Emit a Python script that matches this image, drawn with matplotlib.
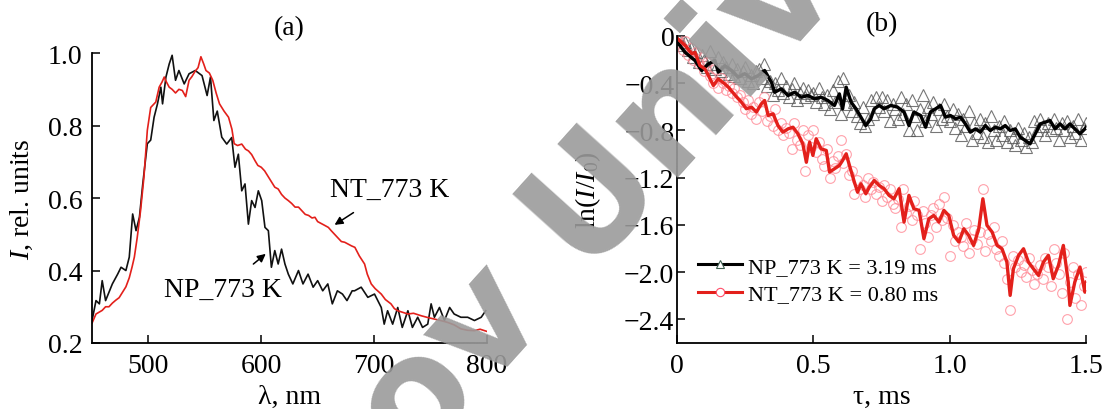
import numpy as np
import matplotlib.pyplot as plt
from matplotlib.lines import Line2D

plt.rcParams['font.family'] = ['Liberation Serif', 'DejaVu Serif']
plt.rcParams['mathtext.fontset'] = 'custom'
plt.rcParams['mathtext.rm'] = 'Liberation Serif'
plt.rcParams['mathtext.it'] = 'Liberation Serif:italic'

# (a) luminescence spectra
lam_nt = [450, 453.5, 459, 462, 465, 468, 471, 474, 477, 480, 483, 485.5, 487.5, 490, 493, 496, 499,
          502, 506.5, 509.5, 512, 514, 516, 518.4, 521, 524, 527, 530, 533, 536, 538.5, 541, 544,
          546.5, 549, 551, 554, 557, 560, 563, 567, 571, 574, 576, 579, 582.7, 586, 588.7, 591.5,
          594.5, 597, 600, 603, 606, 609, 612, 615, 618, 621, 624, 627, 630, 633, 636, 639, 642,
          645, 647.6, 650, 653, 656, 659.5, 662, 665, 668, 671, 674, 677, 680, 683, 687, 691.6,
          694, 697.5, 701, 706.4, 710, 715, 718, 721, 725, 730, 735, 742, 748, 753.5, 759, 765,
          771, 777, 783, 789, 794, 798, 800]
int_nt = [0.255, 0.28, 0.29, 0.30, 0.30, 0.31, 0.318, 0.325, 0.34, 0.355, 0.38, 0.41, 0.437, 0.49,
          0.565, 0.658, 0.787, 0.85, 0.865, 0.906, 0.92, 0.934, 0.92, 0.906, 0.90, 0.89, 0.90, 0.897,
          0.88, 0.925, 0.935, 0.948, 0.96, 0.99, 0.97, 0.952, 0.945, 0.925, 0.89, 0.86, 0.84, 0.823,
          0.79, 0.75, 0.745, 0.749, 0.735, 0.73, 0.72, 0.703, 0.69, 0.685, 0.675, 0.66, 0.645, 0.63,
          0.625, 0.61, 0.60, 0.593, 0.585, 0.575, 0.575, 0.565, 0.555, 0.552, 0.545, 0.547, 0.535,
          0.53, 0.525, 0.519, 0.51, 0.50, 0.49, 0.48, 0.478, 0.473, 0.468, 0.464, 0.44, 0.418, 0.39,
          0.363, 0.35, 0.335, 0.32, 0.308, 0.295, 0.289, 0.285, 0.28, 0.282, 0.275, 0.27, 0.266,
          0.262, 0.257, 0.25, 0.239, 0.235, 0.234, 0.238, 0.234, 0.232]

lam_np = [450, 453.5, 456.5, 459, 462, 465, 468, 472.7, 475.7, 480, 483, 486, 489, 492, 495, 499,
          502, 505, 508, 511, 512.5, 515.5, 518.4, 521, 524, 527, 531.7, 536, 541.5, 547.5, 552,
          555, 558, 561, 565, 569.4, 573.8, 576.7, 579.7, 582.7, 585.6, 588.6, 591.5, 594.5, 597.4,
          600.4, 603.3, 606.3, 609, 612, 615, 618, 621, 624, 628, 633, 637, 641.5, 646, 650, 654.5,
          659, 663, 667.5, 672, 676, 680.6, 682.7, 688.6, 694.5, 700.4, 706.4, 709, 712, 716.5,
          721, 725, 730, 734, 738.7, 743, 747.6, 750.6, 753.5, 758, 762.4, 767, 771, 777, 783, 789,
          795, 799]
int_np = [0.262, 0.317, 0.308, 0.372, 0.317, 0.34, 0.363, 0.39, 0.409, 0.40, 0.437, 0.556, 0.51,
          0.547, 0.64, 0.75, 0.76, 0.823, 0.86, 0.906, 0.86, 0.934, 0.97, 0.994, 0.925, 0.952, 0.915,
          0.943, 0.952, 0.938, 0.883, 0.934, 0.814, 0.84, 0.768, 0.749, 0.767, 0.685, 0.721, 0.62,
          0.639, 0.528, 0.593, 0.574, 0.62, 0.593, 0.519, 0.51, 0.409, 0.455, 0.418, 0.459, 0.418,
          0.39, 0.363, 0.40, 0.363, 0.39, 0.354, 0.372, 0.344, 0.363, 0.308, 0.344, 0.335, 0.317,
          0.344, 0.344, 0.354, 0.326, 0.335, 0.298, 0.252, 0.289, 0.252, 0.298, 0.243, 0.289, 0.243,
          0.271, 0.243, 0.252, 0.308, 0.271, 0.298, 0.262, 0.298, 0.28, 0.271, 0.271, 0.262, 0.271,
          0.289]

# (b) decay curves: smoothed lines
tau_np_line = [0.0, 0.029, 0.066, 0.090, 0.115, 0.139, 0.151, 0.175, 0.200, 0.224, 0.248, 0.273,
               0.297, 0.321, 0.346, 0.358, 0.382, 0.407, 0.431, 0.455, 0.480, 0.504, 0.528, 0.553,
               0.577, 0.595, 0.607, 0.620, 0.638, 0.656, 0.674, 0.692, 0.710, 0.723, 0.741, 0.759,
               0.783, 0.808, 0.832, 0.850, 0.868, 0.893, 0.911, 0.929, 0.948, 0.966, 0.984, 1.002,
               1.021, 1.039, 1.057, 1.075, 1.094, 1.112, 1.130, 1.148, 1.167, 1.185, 1.203, 1.221,
               1.240, 1.258, 1.276, 1.294, 1.313, 1.331, 1.349, 1.367, 1.386, 1.404, 1.422, 1.440,
               1.458, 1.477, 1.495, 1.5]
np_line = [-0.05, -0.138, -0.209, -0.293, -0.237, -0.209, -0.307, -0.251, -0.293, -0.35, -0.32,
           -0.363, -0.336, -0.293, -0.392, -0.477, -0.448, -0.505, -0.477, -0.519, -0.505, -0.533,
           -0.519, -0.547, -0.589, -0.491, -0.617, -0.434, -0.561, -0.617, -0.688, -0.759, -0.702,
           -0.617, -0.589, -0.617, -0.589, -0.603, -0.645, -0.759, -0.645, -0.674, -0.773, -0.645,
           -0.617, -0.589, -0.688, -0.674, -0.702, -0.688, -0.745, -0.815, -0.787, -0.815, -0.759,
           -0.801, -0.773, -0.787, -0.759, -0.801, -0.787, -0.857, -0.885, -0.914, -0.829, -0.745,
           -0.731, -0.716, -0.787, -0.745, -0.787, -0.745, -0.787, -0.829, -0.787, -0.77]

tau_nt_line = [0.0, 0.005, 0.029, 0.054, 0.066, 0.084, 0.102, 0.115, 0.133, 0.151, 0.175, 0.188,
               0.212, 0.236, 0.254, 0.273, 0.291, 0.309, 0.321, 0.334, 0.352, 0.370, 0.388, 0.407,
               0.425, 0.443, 0.461, 0.474, 0.486, 0.498, 0.510, 0.528, 0.547, 0.559, 0.577, 0.595,
               0.607, 0.620, 0.632, 0.650, 0.662, 0.674, 0.692, 0.705, 0.723, 0.741, 0.759, 0.777,
               0.795, 0.814, 0.832, 0.850, 0.868, 0.887, 0.905, 0.923, 0.941, 0.960, 0.978, 0.996,
               1.014, 1.033, 1.051, 1.069, 1.087, 1.106, 1.121, 1.136, 1.155, 1.173, 1.191, 1.209,
               1.221, 1.233, 1.252, 1.270, 1.288, 1.306, 1.325, 1.343, 1.361, 1.379, 1.398, 1.416,
               1.434, 1.440, 1.458, 1.477, 1.495, 1.5]
nt_line = [-0.02, -0.03, -0.079, -0.15, -0.14, -0.251, -0.279, -0.336, -0.42, -0.364, -0.406,
           -0.434, -0.50, -0.561, -0.617, -0.603, -0.645, -0.575, -0.547, -0.674, -0.66, -0.759,
           -0.815, -0.787, -0.773, -0.829, -0.914, -1.07, -0.899, -1.012, -0.871, -0.956, -0.97,
           -1.153, -1.125, -1.097, -1.054, -0.998, -1.097, -1.238, -1.323, -1.252, -1.337, -1.28,
           -1.224, -1.266, -1.294, -1.35, -1.379, -1.294, -1.576, -1.35, -1.463, -1.477, -1.717,
           -1.548, -1.52, -1.576, -1.477, -1.52, -1.689, -1.745, -1.633, -1.689, -1.774, -1.633,
           -1.379, -1.604, -1.661, -1.774, -1.802, -1.915, -2.197, -1.971, -1.858, -1.802, -1.915,
           -1.971, -2.028, -1.915, -1.858, -2.056, -1.943, -1.774, -2.084, -2.282, -2.084, -1.957,
           -2.17, -2.084]

# (b) measured points, every 0.01 ms
tau_pts = np.round(np.arange(151) * 0.01, 2)
np_pts = [0.0, -0.03, -0.08, -0.05, -0.12, -0.10, -0.18, -0.14, -0.22, -0.16,
          -0.20, -0.26, -0.13, -0.24, -0.28, -0.18, -0.30, -0.22, -0.26, -0.32,
          -0.24, -0.34, -0.28, -0.36, -0.30, -0.26, -0.38, -0.33, -0.40, -0.30,
          -0.28, -0.36, -0.24, -0.42, -0.38, -0.50, -0.40, -0.46, -0.36, -0.48,
          -0.42, -0.52, -0.45, -0.40, -0.54, -0.48, -0.44, -0.52, -0.46, -0.50,
          -0.48, -0.56, -0.44, -0.52, -0.58, -0.50, -0.62, -0.46, -0.56, -0.38,
          -0.66, -0.36, -0.58, -0.50, -0.64, -0.56, -0.68, -0.74, -0.60, -0.76,
          -0.70, -0.54, -0.66, -0.52, -0.60, -0.52, -0.64, -0.54, -0.72, -0.58,
          -0.62, -0.70, -0.52, -0.66, -0.58, -0.80, -0.54, -0.68, -0.80, -0.62,
          -0.50, -0.72, -0.60, -0.66, -0.56, -0.76, -0.62, -0.70, -0.58, -0.68,
          -0.72, -0.62, -0.78, -0.66, -0.84, -0.70, -0.76, -0.64, -0.88, -0.74,
          -0.82, -0.70, -0.86, -0.74, -0.90, -0.68, -0.80, -0.88, -0.76, -0.84,
          -0.72, -0.90, -0.80, -0.86, -0.92, -0.78, -0.88, -0.82, -0.94, -0.86,
          -0.90, -0.72, -0.80, -0.70, -0.76, -0.84, -0.74, -0.80, -0.70, -0.78,
          -0.88, -0.74, -0.80, -0.72, -0.86, -0.76, -0.82, -0.70, -0.88, -0.78,
          -0.74]
nt_pts = [-0.02, -0.06, -0.12, -0.04, -0.16, -0.10, -0.20, -0.14, -0.24, -0.18,
          -0.30, -0.22, -0.34, -0.40, -0.28, -0.44, -0.36, -0.40, -0.46, -0.42,
          -0.48, -0.44, -0.52, -0.50, -0.56, -0.62, -0.54, -0.66, -0.60, -0.70,
          -0.56, -0.64, -0.52, -0.72, -0.68, -0.76, -0.62, -0.80, -0.74, -0.84,
          -0.78, -0.82, -0.96, -0.74, -0.88, -0.92, -0.80, -1.14, -0.84, -0.94,
          -0.80, -0.98, -0.90, -1.04, -1.10, -0.96, -1.20, -1.06, -1.12, -1.02,
          -0.88, -1.08, -1.00, -1.18, -1.14, -1.34, -1.22, -1.30, -1.26, -1.36,
          -1.20, -1.30, -1.24, -1.34, -1.28, -1.40, -1.26, -1.36, -1.30, -1.42,
          -1.46, -1.38, -1.62, -1.30, -1.50, -1.44, -1.56, -1.40, -1.52, -1.80,
          -1.48, -1.58, -1.70, -1.52, -1.46, -1.62, -1.42, -1.56, -1.36, -1.54,
          -1.86, -1.60, -1.74, -1.66, -1.70, -1.78, -1.58, -1.84, -1.72, -1.64,
          -1.76, -1.66, -1.30, -1.82, -1.68, -1.74, -1.62, -1.80, -1.86, -1.74,
          -1.92, -2.06, -2.32, -1.86, -1.96, -1.90, -2.00, -1.94, -2.04, -1.88,
          -1.98, -2.10, -2.02, -1.94, -2.06, -1.88, -1.96, -2.12, -1.80, -1.92,
          -2.02, -2.18, -1.84, -2.40, -2.08, -1.96, -2.22, -2.02, -2.28, -2.12,
          -2.00]

RED = '#e3201b'
FS = 20

fig = plt.figure(figsize=(11.09, 4.10), dpi=100)
ax1 = fig.add_axes([0.083, 0.161, 0.356, 0.707])
ax2 = fig.add_axes([0.6105, 0.161, 0.369, 0.749])

for ax in (ax1, ax2):
    ax.spines['top'].set_visible(False)
    ax.spines['right'].set_visible(False)
    ax.spines['left'].set_linewidth(1.3)
    ax.spines['bottom'].set_linewidth(1.3)
    ax.tick_params(direction='in', length=6, width=1.1, labelsize=FS)
    ax.tick_params(axis='x', pad=7)
ax1.tick_params(axis='y', pad=7)
ax2.tick_params(axis='y', pad=2)

# panel (a)
ax1.plot(lam_np, int_np, color='#111111', lw=1.2)
ax1.plot(lam_nt, int_nt, color=RED, lw=1.2)
ax1.set_xlim(450, 800)
ax1.set_ylim(0.2, 1.0)
ax1.set_xticks([500, 600, 700, 800])
ax1.set_yticks([0.2, 0.4, 0.6, 0.8, 1.0])
ax1.set_yticklabels(['0.2', '0.4', '0.6', '0.8', '1.0'])
ax1.set_xlabel('λ, nm', fontsize=FS)
ax1.xaxis.set_label_coords(0.5, -0.14)
ax1.set_ylabel('$I$, rel. units', fontsize=FS)
ax1.yaxis.set_label_coords(-0.145, 0.5)
ax1.set_title('(a)', fontsize=FS, pad=14)
ax1.annotate('NT_773 K', xy=(665, 0.526), xytext=(714, 0.625), fontsize=FS,
             ha='center', va='center',
             arrowprops=dict(arrowstyle='-|>', color='black', lw=1.1, shrinkA=11, shrinkB=0,
                             mutation_scale=12))
ax1.annotate('NP_773 K', xy=(604, 0.446), xytext=(566, 0.349), fontsize=FS,
             ha='center', va='center',
             arrowprops=dict(arrowstyle='-|>', color='black', lw=1.1, shrinkA=11, shrinkB=0,
                             mutation_scale=12))

# panel (b)
ax2.plot(tau_pts, np_pts, linestyle='none', marker='^', ms=8, mfc='none',
         mec='#555555', mew=0.8, alpha=0.8)
ax2.plot(tau_pts, nt_pts, linestyle='none', marker='o', ms=7, mfc='none',
         mec='#ff8a96', mew=0.8, alpha=0.8)
ax2.plot(tau_np_line, np_line, color='black', lw=2.4)
ax2.plot(tau_nt_line, nt_line, color=RED, lw=2.4)
ax2.set_xlim(0, 1.5)
ax2.set_ylim(-2.6, 0)
ax2.set_xticks([0, 0.5, 1.0, 1.5])
ax2.set_xticklabels(['0', '0.5', '1.0', '1.5'])
ax2.set_yticks([0, -0.4, -0.8, -1.2, -1.6, -2.0, -2.4])
ax2.set_yticklabels(['0', '\u22120.4', '\u22120.8', '\u22121.2', '\u22121.6',
                     '\u22122.0', '\u22122.4'])
ax2.set_xlabel('τ, ms', fontsize=FS)
ax2.xaxis.set_label_coords(0.5, -0.133)
ax2.set_ylabel('ln($I$/$I_0$)', fontsize=FS)
ax2.yaxis.set_label_coords(-0.18, 0.5)
ax2.set_title('(b)', fontsize=FS, pad=4)

handles = [
    Line2D([], [], color='black', lw=2.2, marker='^', ms=6, mfc='white', mec='#3f5f50', mew=0.8),
    Line2D([], [], color=RED, lw=2.2, marker='o', ms=6, mfc='white', mec='#ff4f6a', mew=0.8),
]
ax2.legend(handles, ['NP_773 K = 3.19 ms', 'NT_773 K = 0.80 ms'], loc='lower left',
           bbox_to_anchor=(0.012, 0.075), frameon=False, fontsize=16,
           handlelength=2.0, handletextpad=0.25, labelspacing=0.3, borderpad=0.2)

# watermark
fig.text(0.0933, -0.99, 'Saratov University', fontsize=110, fontweight='bold',
         family='DejaVu Sans', color='#9b9b9b', alpha=0.9,
         rotation=48, rotation_mode='anchor', ha='left', va='baseline', zorder=10)

fig.savefig('out.png', dpi=100)
